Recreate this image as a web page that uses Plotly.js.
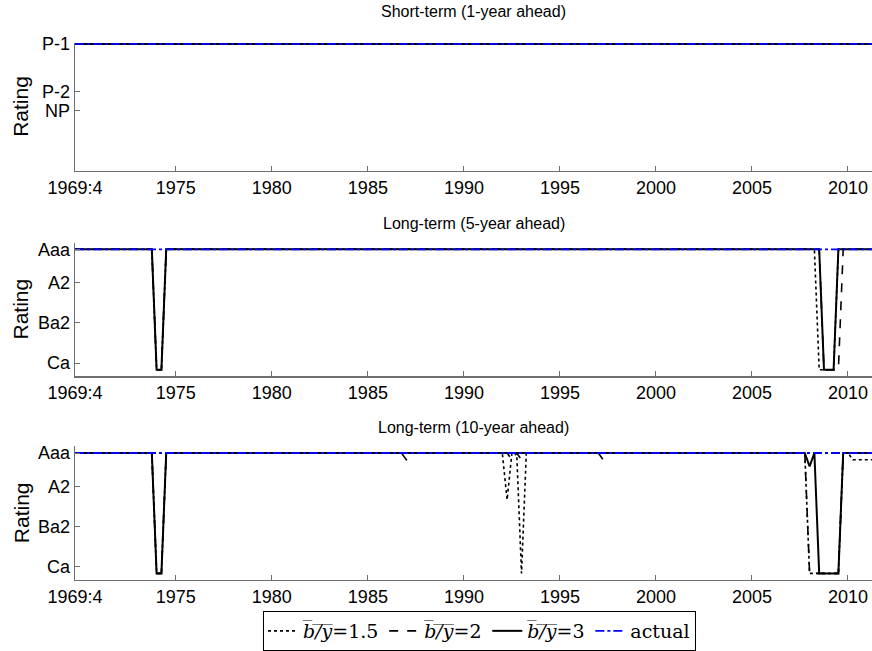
<!DOCTYPE html>
<html>
<head>
<meta charset="utf-8">
<script src="https://cdn.plot.ly/plotly-3.0.1.min.js"></script>
<style>html,body{margin:0;padding:0;background:#fff;}#chart{width:872px;height:651px;}</style>
</head>
<body>
<div id="chart"></div>
<script>
// ---------- data (quarterly breakpoints; x = year + (quarter-1)/4) ----------
var xStart = 1969.75, xEnd = 2011.25;
var panelTitles = ['Short-term (1-year ahead)', 'Long-term (5-year ahead)', 'Long-term (10-year ahead)'];
var seriesNames = ['<i>b̅/̅y̅</i>=1.5', '<i>b̅/̅y̅</i>=2', '<i>b̅/̅y̅</i>=3', 'actual'];

// short-term rating scale
var stTickVals = [1, 3.5, 4.5];
var stTickText = ['P-1', 'P-2', 'NP'];
// long-term rating scale (Aaa=1 ... Ca=18)
var ltTickVals = [1, 6, 12, 18];
var ltTickText = ['Aaa', 'A2', 'Ba2', 'Ca'];

var xTickVals = [1969.75, 1975, 1980, 1985, 1990, 1995, 2000, 2005, 2010];
var xTickText = ['1969:4', '1975', '1980', '1985', '1990', '1995', '2000', '2005', '2010'];

// Panel 1: short-term, all at P-1
var st_x = [1969.75, 2011.25];
var st_y15 = [1, 1];
var st_y2 = [1, 1];
var st_y3 = [1, 1];
var st_act = [1, 1];

// Panel 2: 5-year ahead
var m_x15 = [1969.75, 1973.75, 1974.0, 1974.25, 1974.5, 2008.25, 2008.5, 2009.25, 2009.5, 2011.25];
var m_y15 = [1, 1, 19, 19, 1, 1, 19, 19, 1, 1];
var m_x2 = [1969.75, 1973.75, 1974.0, 1974.25, 1974.5, 2008.5, 2008.75, 2009.5, 2009.75, 2011.25];
var m_y2 = [1, 1, 19, 19, 1, 1, 19, 19, 1, 1];
var m_x3 = [1969.75, 1973.75, 1974.0, 1974.25, 1974.5, 2008.5, 2008.75, 2009.25, 2009.5, 2011.25];
var m_y3 = [1, 1, 19, 19, 1, 1, 19, 19, 1, 1];
var m_xa = [1969.75, 2011.25];
var m_ya = [1, 1];

// Panel 3: 10-year ahead
var b_x15 = [1969.75, 1973.75, 1974.0, 1974.25, 1974.5, 1991.75, 1992.0, 1992.25, 1992.5, 1992.75, 1993.0, 1993.25, 2007.75, 2008.0, 2009.5, 2009.75, 2010.0, 2010.25, 2011.25];
var b_y15 = [1, 1, 19, 19, 1, 1, 1, 8, 1, 1, 19, 1, 1, 19, 19, 1, 1, 2, 2];
var b_x2 = [1969.75, 1973.75, 1974.0, 1974.25, 1974.5, 1986.75, 1987.0, 1987.25, 1992.25, 1992.5, 1992.75, 1993.0, 1993.25, 1997.0, 1997.25, 1997.5, 2007.75, 2008.0, 2009.5, 2009.75, 2011.25];
var b_y2 = [1, 1, 19, 19, 1, 1, 2, 1, 1, 2, 1, 2, 1, 1, 2, 1, 1, 19, 19, 1, 1];
var b_x3 = [1969.75, 1973.75, 1974.0, 1974.25, 1974.5, 2007.75, 2008.0, 2008.25, 2008.5, 2009.5, 2009.75, 2011.25];
var b_y3 = [1, 1, 19, 19, 1, 1, 3, 1, 19, 19, 1, 1];
var b_xa = [1969.75, 2011.25];
var b_ya = [1, 1];

// ---------- styles ----------
var styles = [
  {color: '#000000', dash: 'dot', width: 1.6},
  {color: '#000000', dash: 'dash', width: 1.6},
  {color: '#000000', dash: 'solid', width: 2},
  {color: '#0000ff', dash: 'dashdot', width: 1.8}
];

function tr(x, y, k, ax, show) {
  return {
    x: x, y: y, type: 'scatter', mode: 'lines',
    name: seriesNames[k], legendgroup: 'g' + k, showlegend: show,
    line: {color: styles[k].color, dash: styles[k].dash, width: styles[k].width, shape: 'linear'},
    xaxis: 'x' + (ax === 1 ? '' : ax), yaxis: 'y' + (ax === 1 ? '' : ax),
    hoverinfo: 'skip'
  };
}

var data = [
  tr(st_x, st_y15, 0, 1, true), tr(st_x, st_y2, 1, 1, true), tr(st_x, st_y3, 2, 1, true), tr(st_x, st_act, 3, 1, true),
  tr(m_x15, m_y15, 0, 2, false), tr(m_x2, m_y2, 1, 2, false), tr(m_x3, m_y3, 2, 2, false), tr(m_xa, m_ya, 3, 2, false),
  tr(b_x15, b_y15, 0, 3, false), tr(b_x2, b_y2, 1, 3, false), tr(b_x3, b_y3, 2, 3, false), tr(b_xa, b_ya, 3, 3, false)
];

var H = 651;
function dom(topPx, botPx) { return [1 - botPx / H, 1 - topPx / H]; }

var axisFont = {family: 'Liberation Sans, Arial, sans-serif', size: 18, color: '#000'};
function xax(anchor) {
  return {
    domain: [0, 1], anchor: anchor, range: [xStart, xEnd],
    tickmode: 'array', tickvals: xTickVals, ticktext: xTickText,
    ticks: 'inside', ticklen: 5, tickwidth: 1, tickcolor: '#6e6e6e',
    showline: true, linecolor: '#6e6e6e', linewidth: 1.3,
    showgrid: false, zeroline: false, tickfont: axisFont, automargin: false
  };
}
function yax(anchor, d, range, tv, tt) {
  return {
    domain: d, anchor: anchor, range: range,
    tickmode: 'array', tickvals: tv, ticktext: tt,
    ticks: 'inside', ticklen: 5, tickwidth: 1, tickcolor: '#6e6e6e',
    showline: true, linecolor: '#6e6e6e', linewidth: 1.3,
    showgrid: false, zeroline: false, tickfont: axisFont, automargin: false
  };
}

var d1 = dom(43, 171), d2 = dom(243, 377), d3 = dom(447, 581);

var titleFont = {family: 'Liberation Sans, Arial, sans-serif', size: 16, color: '#000'};
var ratingFont = {family: 'Liberation Sans, Arial, sans-serif', size: 21, color: '#000'};

var annotations = [];
[[d1, 12], [d2, 224], [d3, 428]].forEach(function (p, i) {
  annotations.push({text: panelTitles[i], xref: 'paper', yref: 'paper', x: 0.5, y: 1 - p[1] / H,
    xanchor: 'center', yanchor: 'middle', showarrow: false, font: titleFont});
  annotations.push({text: 'Rating', xref: 'paper', yref: 'paper', x: (21 - 75) / 797, y: (p[0][0] + p[0][1]) / 2,
    xanchor: 'center', yanchor: 'middle', textangle: -90, showarrow: false, font: ratingFont});
});

var layout = {
  width: 872, height: 651,
  margin: {l: 75, r: 0, t: 0, b: 0},
  paper_bgcolor: '#ffffff', plot_bgcolor: '#ffffff',
  showlegend: true,
  legend: {
    orientation: 'h', x: (479.5 - 75) / 797, xanchor: 'center', y: 1 - 612 / H, yanchor: 'top',
    bordercolor: '#000', borderwidth: 1, bgcolor: '#fff',
    font: {family: 'DejaVu Serif, Liberation Serif, serif', size: 19, color: '#000'},
    itemwidth: 30, tracegroupgap: 0
  },
  xaxis: xax('y'), yaxis: yax('x', d1, [7.68, 0.95], stTickVals, stTickText),
  xaxis2: xax('y2'), yaxis2: yax('x2', d2, [20, 0], ltTickVals, ltTickText),
  xaxis3: xax('y3'), yaxis3: yax('x3', d3, [20, 0], ltTickVals, ltTickText),
  annotations: annotations
};

Plotly.newPlot('chart', data, layout, {staticPlot: true, displayModeBar: false});
</script>
</body>
</html>
